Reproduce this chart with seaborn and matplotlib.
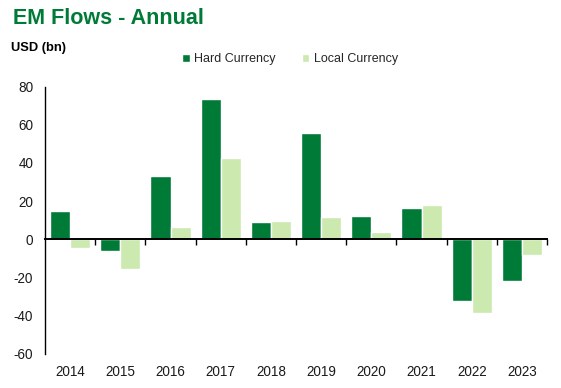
import matplotlib
matplotlib.use("Agg")
import matplotlib.pyplot as plt
import seaborn as sns
import pandas as pd
import numpy as np

years = ["2014", "2015", "2016", "2017", "2018", "2019", "2020", "2021", "2022", "2023"]
hard_currency = [14.8, -6.0, 33.2, 73.6, 9.1, 55.7, 12.2, 16.4, -32.2, -21.7]
local_currency = [-4.4, -15.4, 6.4, 42.6, 9.6, 11.7, 3.8, 18.0, -38.5, -8.1]
series_names = ["Hard Currency", "Local Currency"]
y_ticks = [-60, -40, -20, 0, 20, 40, 60, 80]

DARK = "#007A37"
LIGHT = "#CCE9AF"

sns.set_theme(style="white")
plt.rcParams["font.family"] = ["Liberation Sans", "DejaVu Sans"]

df = pd.DataFrame({
    "year": years * 2,
    "value": hard_currency + local_currency,
    "series": [series_names[0]] * len(years) + [series_names[1]] * len(years),
})

fig = plt.figure(figsize=(5.61, 3.88), dpi=100)
ax = fig.add_axes([45 / 561, 1 - 353.5 / 388, (547 - 45) / 561, (353.5 - 86.7) / 388])

sns.barplot(data=df, x="year", y="value", hue="series", order=years,
            hue_order=series_names, palette=[DARK, LIGHT], saturation=1,
            width=0.8, ax=ax, legend=True)

ax.set_xlim(-0.5, len(years) - 0.5)
ax.set_ylim(-60, 80)
ax.set_yticks(y_ticks)
ax.set_yticklabels([str(v) for v in y_ticks])
ax.tick_params(axis="y", length=0, pad=8.5, labelsize=9.75, labelcolor="#1a1a1a")
ax.set_xlabel("")
ax.set_ylabel("")

for s in ["top", "right"]:
    ax.spines[s].set_visible(False)
ax.spines["left"].set_color("black")
ax.spines["left"].set_linewidth(1.0)
ax.spines["bottom"].set_position(("data", 0))
ax.spines["bottom"].set_color("black")
ax.spines["bottom"].set_linewidth(1.4)
ax.spines["bottom"].set_zorder(5)

# boundary ticks on the zero line
ax.set_xticks(np.arange(len(years)) + 0.5, minor=True)
ax.tick_params(axis="x", which="minor", length=4, width=1, color="black", direction="out", bottom=True)
ax.tick_params(axis="x", which="major", length=0, labelbottom=False)

# category labels at the bottom of the plot
sec = ax.secondary_xaxis(location=0)
sec.set_xticks(range(len(years)))
sec.set_xticklabels(years)
sec.tick_params(axis="x", length=0, pad=8, labelsize=9.75, labelcolor="#1a1a1a")
sec.spines["bottom"].set_visible(False)

ax.grid(False)

handles, labels = ax.get_legend_handles_labels()
ax.get_legend().remove()
fig.legend(handles, labels, loc="center left", bbox_to_anchor=(177 / 561, 1 - 59 / 388),
           ncol=2, frameon=False, fontsize=9.0, handlelength=0.6, handleheight=0.6,
           handletextpad=0.35, columnspacing=2.1, borderaxespad=0)

fig.text(13 / 561, 1 - 8 / 388, "EM Flows - Annual", fontsize=15.5, fontweight="bold",
         color=DARK, ha="left", va="top")
fig.text(11 / 561, 1 - 42 / 388, "USD (bn)", fontsize=9.3, fontweight="bold",
         color="black", ha="left", va="top")

fig.savefig("out.png", dpi=100)
